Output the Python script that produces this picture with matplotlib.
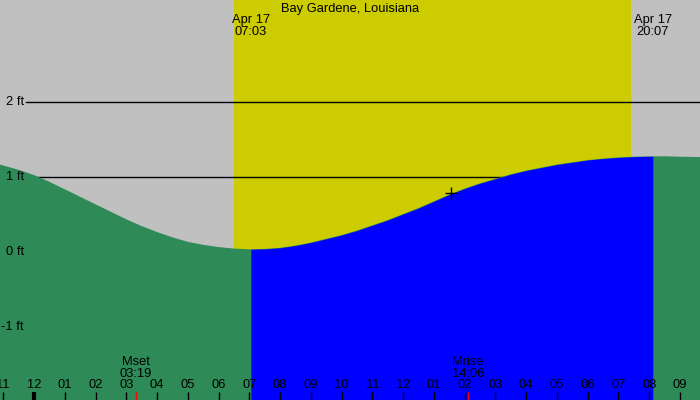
import matplotlib
matplotlib.use("Agg")
import matplotlib.pyplot as plt
import matplotlib.transforms as mtransforms
import numpy as np

# ---- data ----
title = "Bay Gardene, Louisiana"
# hours relative to midnight Apr 17, tide height in ft
tide_hours = [-1.105, -0.5, 0.0, 0.5, 1.0, 1.5, 2.0, 2.5, 3.0, 3.5, 4.0, 4.5, 5.0,
              5.5, 6.0, 6.5, 7.0, 7.5, 8.0, 8.5, 9.0, 9.5, 10.0, 10.5, 11.0, 11.5,
              12.0, 12.5, 13.0, 13.5, 14.0, 14.5, 15.0, 15.5, 16.0, 16.5, 17.0,
              17.5, 18.0, 18.5, 19.0, 19.5, 20.0, 20.5, 21.0, 21.65]
tide_ft = [1.17, 1.10, 1.03, 0.94, 0.84, 0.74, 0.64, 0.54, 0.44, 0.35, 0.27, 0.20, 0.14,
           0.10, 0.07, 0.05, 0.04, 0.045, 0.06, 0.09, 0.13, 0.18, 0.23, 0.29, 0.36, 0.43,
           0.51, 0.59, 0.68, 0.77, 0.85, 0.92, 0.98, 1.04, 1.09, 1.13, 1.17,
           1.20, 1.23, 1.25, 1.265, 1.275, 1.28, 1.28, 1.275, 1.27]
sunrise_h = 7.05      # 07:03
sunset_h = 20.117     # 20:07
day_shade = [6.5, 19.41]
sun_labels = ["Apr 17\n07:03", "Apr 17\n20:07"]
moon_hours = [3.317, 14.10]
moon_labels = ["Mset\n03:19", "Mrise\n14:06"]
now_marker = (13.56, 0.79)
grid_ft = [2, 1]
ylabel_ft = [2, 1, 0, -1]
ylabel_text = ["2 ft", "1 ft", "0 ft", "-1 ft"]
tick_hours = list(range(-1, 22))
tick_labels = ["11", "12", "01", "02", "03", "04", "05", "06", "07", "08", "09", "10",
               "11", "12", "01", "02", "03", "04", "05", "06", "07", "08", "09"]
midnight_h = 0

# ---- figure ----
plt.rcParams['font.family'] = ['Liberation Sans', 'DejaVu Sans']
fig = plt.figure(figsize=(7, 4), dpi=100)
ax = fig.add_axes([0, 0, 1, 1])
ax.set_facecolor("#c0c0c0")
ax.set_xlim(-1.105, 21.65)
ax.set_ylim(-1.969, 3.364)
ax.axis("off")
fig.patch.set_facecolor("#c0c0c0")

ax.axvspan(day_shade[0], day_shade[1], color="#cccc00", zorder=1, lw=0)

for g in grid_ft:
    ax.plot([-0.26, 21.65], [g, g], color="black", lw=1, zorder=2)

th = np.array(tide_hours)
tf = np.array(tide_ft)
ax.fill_between(th, tf, -3, color="#2e8b57", lw=0, zorder=3)
xs = np.concatenate(([sunrise_h], th[(th > sunrise_h) & (th < sunset_h)], [sunset_h]))
ys = np.interp(xs, th, tf)
ax.fill_between(xs, ys, -3, color="#0000ff", lw=0, zorder=4)

ax.plot([now_marker[0]], [now_marker[1]], marker="+", color="black",
        markersize=9, mew=1, zorder=6)

fs = 9.3
for v, t in zip(ylabel_ft, ylabel_text):
    ax.text(-0.325, v, t, ha="right", va="center", fontsize=fs, zorder=7)

ax.text(0.5, 1 - 3 / 400, title, transform=ax.transAxes, ha="center", va="top",
        fontsize=fs, zorder=7)

for h, lab in zip([sunrise_h, sunset_h], sun_labels):
    ax.text(h, 3.364 - 14 / 75, lab, ha="center", va="top", fontsize=fs,
            linespacing=1.0, zorder=7)

trans = mtransforms.blended_transform_factory(ax.transData, ax.transAxes)
for h, lab in zip(tick_hours, tick_labels):
    ax.text(h, 15 / 400, lab, transform=trans, ha="center", va="center",
            fontsize=fs, zorder=7)
    ax.plot([h, h], [0, 8 / 400], transform=trans, color="black",
            lw=3 if h == midnight_h else 1, zorder=7, solid_capstyle="butt")

for h, lab in zip(moon_hours, moon_labels):
    ax.plot([h, h], [0, 8 / 400], transform=trans, color="red", lw=1, zorder=8,
            solid_capstyle="butt")
    ax.text(h, 1 - 356 / 400, lab, transform=trans, ha="center", va="top",
            fontsize=fs, linespacing=1.0, zorder=7)

fig.savefig("out.png", dpi=100, facecolor=fig.get_facecolor())
